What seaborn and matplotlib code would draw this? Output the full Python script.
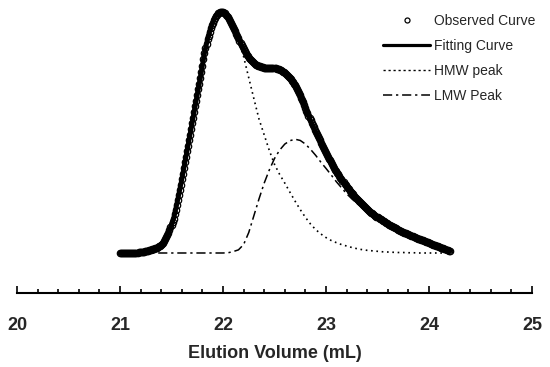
import numpy as np
import pandas as pd
import matplotlib
matplotlib.use("Agg")
import matplotlib.pyplot as plt
from matplotlib.lines import Line2D
from matplotlib.ticker import MultipleLocator
import seaborn as sns

# ---------------- data ----------------
obs_start, obs_step = 21.00, 0.01
observed = [
    0, 0, 0, 0, 0, 0, 0, 0, 0, 0,
    .001, .001, .001, .001, .002, .002, .002, .002, .003, .003,
    .004, .004, .005, .006, .007, .008, .009, .010, .011, .012,
    .014, .015, .017, .018, .020, .021, .022, .024, .027, .030,
    .034, .038, .043, .049, .056, .065, .074, .084, .094, .106,
    .118, .130, .143, .160, .179, .199, .219, .240, .260, .282,
    .305, .328, .352, .376, .400, .422, .445, .467, .490, .514,
    .538, .562, .586, .609, .632, .656, .679, .702, .725, .751,
    .777, .803, .829, .849, .868, .886, .902, .918, .932, .944,
    .955, .966, .975, .983, .989, .994, .997, .999, 1.000, 1.000,
    .998, .997, .994, .989, .984, .978, .971, .964, .956, .948,
    .939, .930, .920, .910, .900, .890, .880, .871, .862, .853,
    .845, .837, .830, .823, .816, .810, .804, .799, .795, .791,
    .788, .785, .782, .779, .777, .775, .774, .772, .771, .770,
    .769, .768, .768, .768, .768, .768, .768, .767, .767, .767,
    .767, .766, .765, .764, .762, .760, .758, .756, .753, .750,
    .747, .743, .739, .735, .730, .725, .720, .715, .709, .703,
    .696, .688, .680, .672, .663, .654, .645, .635, .625, .613,
    .601, .590, .579, .569, .559, .550, .540, .530, .521, .512,
    .503, .494, .485, .476, .467, .458, .449, .440, .432, .423,
    .415, .407, .399, .391, .384, .376, .369, .361, .354, .346,
    .339, .332, .326, .319, .313, .306, .300, .293, .287, .281,
    .275, .269, .264, .258, .253, .248, .243, .238, .233, .228,
    .224, .219, .215, .211, .206, .202, .198, .194, .190, .186,
    .182, .178, .175, .171, .168, .165, .161, .158, .155, .151,
    .148, .145, .142, .139, .137, .134, .131, .128, .126, .123,
    .121, .118, .116, .113, .111, .109, .106, .104, .102, .099,
    .097, .095, .093, .091, .089, .087, .085, .083, .081, .079,
    .077, .075, .073, .071, .069, .068, .066, .064, .062, .060,
    .059, .057, .055, .054, .052, .050, .049, .047, .045, .044,
    .042, .040, .039, .037, .035, .034, .032, .030, .029, .027,
    .025, .024, .022, .020, .019, .017, .015, .013, .011, .009,
    .007,
]

peak_start, peak_step = 21.00, 0.05
hmw_peak = [
    0, 0, .001, .002, .004, .008, .014, .021, .034, .065,
    .118, .199, .305, .422, .538, .656, .777, .886, .955, .994,
    .998, .975, .933, .882, .815, .727, .640, .555, .490, .425,
    .368, .326, .290, .252, .215, .180, .148, .120, .097, .079,
    .064, .052, .043, .035, .029, .023, .018, .014, .011, .009,
    .007, .005, .004, .003, .002, .002, .001, .001, 0, 0,
    0, 0, 0, 0, 0,
]
lmw_peak = [
    0, 0, 0, 0, 0, 0, 0, 0, 0, 0,
    0, 0, 0, 0, 0, 0, 0, 0, 0, 0,
    0, .001, .006, .013, .035, .085, .155, .225, .290, .345,
    .392, .427, .452, .466, .472, .467, .452, .430, .405, .377,
    .351, .324, .296, .271, .246, .225, .206, .188, .171, .156,
    .141, .129, .117, .106, .095, .085, .076, .067, .059, .050,
    .042, .034, .025, .017, .007,
]

x_ticks = [20, 21, 22, 23, 24, 25]
x_label = "Elution Volume (mL)"
legend_labels = ["Observed Curve", "Fitting Curve", "HMW peak", "LMW Peak"]

# ---------------- tables ----------------
obs_df = pd.DataFrame({
    "volume": np.round(obs_start + obs_step * np.arange(len(observed)), 3),
    "signal": observed,
})
peak_df = pd.DataFrame({
    "volume": np.round(peak_start + peak_step * np.arange(len(hmw_peak)), 3),
    "hmw": hmw_peak,
    "lmw": lmw_peak,
})

# ---------------- style ----------------
sns.set_style("white")
plt.rcParams["font.family"] = ["Liberation Sans", "DejaVu Sans"]

fig = plt.figure(figsize=(5.5, 3.67), dpi=100)
ax = fig.add_axes([17 / 550, 74 / 367, 515 / 550, 288 / 367])

# HMW (dotted) and LMW (dash-dot) components
sns.lineplot(data=peak_df, x="volume", y="hmw", ax=ax, color="black",
             linewidth=1.2, linestyle=(0, (1, 2.2)), sort=False, errorbar=None,
             zorder=2)
sns.lineplot(data=peak_df, x="volume", y="lmw", ax=ax, color="black",
             linewidth=1.1, linestyle=(0, (6, 2.5, 1.5, 2.5)), sort=False,
             errorbar=None, zorder=2)
# fitting curve (thick) and observed points (hollow circles)
sns.lineplot(data=obs_df, x="volume", y="signal", ax=ax, color="black",
             linewidth=3.5, sort=False, errorbar=None, zorder=3,
             solid_capstyle="round")
sns.lineplot(data=obs_df, x="volume", y="signal", ax=ax, color="black",
             linestyle="", marker="o", markersize=4.6, markerfacecolor="none",
             markeredgecolor="black", markeredgewidth=0.9, sort=False,
             errorbar=None, zorder=4)

ax.set_xlim(20, 25)
ax.set_ylim(-0.166, 1.029)
ax.set_yticks([])
ax.set_ylabel("")
ax.set_xticks(x_ticks)
ax.set_xticklabels([str(t) for t in x_ticks], fontsize=13, fontweight="bold")
ax.xaxis.set_minor_locator(MultipleLocator(0.2))
ax.tick_params(axis="x", which="major", direction="in", length=5, width=1.2,
               pad=17, color="black", bottom=True)
ax.tick_params(axis="x", which="minor", direction="in", length=3, width=1.2,
               color="black", bottom=True)
ax.set_xlabel(x_label, fontsize=13, fontweight="bold", labelpad=8.5)
for s in ["left", "top", "right"]:
    ax.spines[s].set_visible(False)
ax.spines["bottom"].set_linewidth(1.5)
ax.spines["bottom"].set_color("black")

handles = [
    Line2D([], [], color="black", linestyle="", marker="o", markersize=3.6,
           markerfacecolor="none", markeredgewidth=0.9),
    Line2D([], [], color="black", linewidth=2.3),
    Line2D([], [], color="black", linewidth=1.0, linestyle=(0, (1.6, 2.0))),
    Line2D([], [], color="black", linewidth=1.1, linestyle=(0, (6, 2.5, 1.5, 2.5))),
]
leg = ax.legend(handles, legend_labels, loc="upper left",
                bbox_to_anchor=(383 / 550, 1 - 14 / 367),
                bbox_transform=fig.transFigure, frameon=False, fontsize=10,
                handlelength=3.4, handletextpad=0.3, labelspacing=0.78,
                borderpad=0, borderaxespad=0, numpoints=1)

fig.savefig("out.png", dpi=100)
